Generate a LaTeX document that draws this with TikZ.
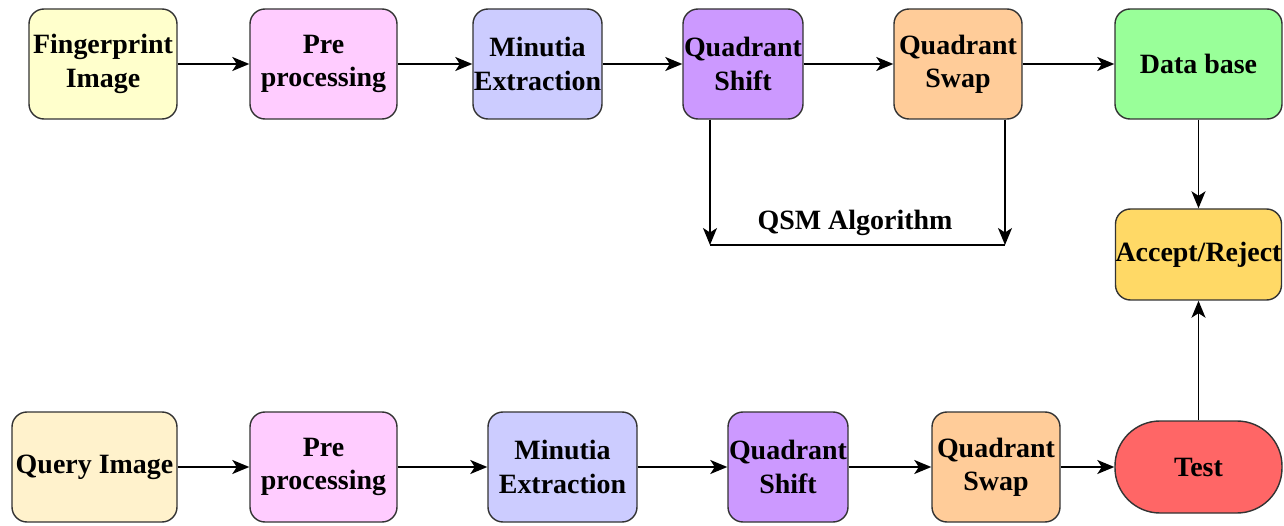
\documentclass[tikz,border=0pt]{standalone}
\usepackage{fontspec}
\setmainfont{Liberation Serif}
\usepackage{tikz}
\usetikzlibrary{arrows.meta,positioning,calc}

\definecolor{fpyellow}{HTML}{FFFFCC}
\definecolor{qyellow}{HTML}{FFF2CC}
\definecolor{prepink}{HTML}{FFCCFF}
\definecolor{minblue}{HTML}{CCCCFF}
\definecolor{shiftpurple}{HTML}{CC99FF}
\definecolor{swaporange}{HTML}{FFCC99}
\definecolor{dbgreen}{HTML}{99FF99}
\definecolor{accgold}{HTML}{FFD966}
\definecolor{testred}{HTML}{FF6666}
\definecolor{edgegray}{HTML}{333333}

\begin{document}
\begin{tikzpicture}[
    block/.style={draw=edgegray, line width=0.8pt, rounded corners=0.3cm, inner sep=0pt,
        minimum height=2.2cm, align=center,
        font=\fontsize{15.9}{19}\selectfont\bfseries},
    flow/.style={-{Stealth[length=0.34cm,width=0.28cm,inset=0.09cm]}, line width=0.9pt},
    plain/.style={line width=0.9pt}
]
    \useasboundingbox (0,0) rectangle (25.68,10.5);

    % Enrolment row
    \node[block, fill=fpyellow, minimum width=2.96cm] (fp) at (2.06,9.22) {Fingerprint\\Image};
    \node[block, fill=prepink, minimum width=2.94cm] (pre1) at (6.47,9.22) {Pre\\processing};
    \node[block, fill=minblue, minimum width=2.58cm] (min1) at (10.75,9.22) {Minutia\\Extraction};
    \node[block, fill=shiftpurple, minimum width=2.4cm] (sh1) at (14.86,9.22) {Quadrant\\Shift};
    \node[block, fill=swaporange, minimum width=2.56cm] (sw1) at (19.16,9.22) {Quadrant\\Swap};
    \node[block, fill=dbgreen, minimum width=3.34cm] (db) at (23.97,9.22) {Data base};

    % Decision
    \node[block, fill=accgold, minimum width=3.32cm, minimum height=1.82cm] (acc) at (23.97,5.41) {Accept/Reject};

    % Query row
    \node[block, fill=qyellow, minimum width=3.3cm] (q) at (1.89,1.16) {Query Image};
    \node[block, fill=prepink, minimum width=2.94cm] (pre2) at (6.47,1.16) {Pre\\processing};
    \node[block, fill=minblue, minimum width=2.98cm] (min2) at (11.25,1.16) {Minutia\\Extraction};
    \node[block, fill=shiftpurple, minimum width=2.4cm] (sh2) at (15.76,1.16) {Quadrant\\Shift};
    \node[block, fill=swaporange, minimum width=2.56cm] (sw2) at (19.92,1.16) {Quadrant\\Swap};
    \node[block, fill=testred, minimum width=3.34cm, minimum height=1.84cm, rounded corners=0.9cm] (test) at (23.97,1.16) {Test};

    % Arrows
    \draw[flow] (fp) -- (pre1);
    \draw[flow] (pre1) -- (min1);
    \draw[flow] (min1) -- (sh1);
    \draw[flow] (sh1) -- (sw1);
    \draw[flow] (sw1) -- (db);
    \draw[flow] (db) -- (acc);

    \draw[flow] (q) -- (pre2);
    \draw[flow] (pre2) -- (min2);
    \draw[flow] (min2) -- (sh2);
    \draw[flow] (sh2) -- (sw2);
    \draw[flow] (sw2) -- (test);
    \draw[flow] (test) -- (acc);

    % QSM bracket
    \coordinate (qsmL) at (14.2,5.6);
    \coordinate (qsmR) at (20.1,5.6);
    \draw[flow] (sh1.south -| qsmL) -- (qsmL);
    \draw[flow] (sw1.south -| qsmR) -- (qsmR);
    \draw[plain] (qsmL) -- (qsmR);
    \node[font=\fontsize{15.9}{19}\selectfont\bfseries] (qsm) at (17.1,6.05) {QSM Algorithm};
\end{tikzpicture}
\end{document}
